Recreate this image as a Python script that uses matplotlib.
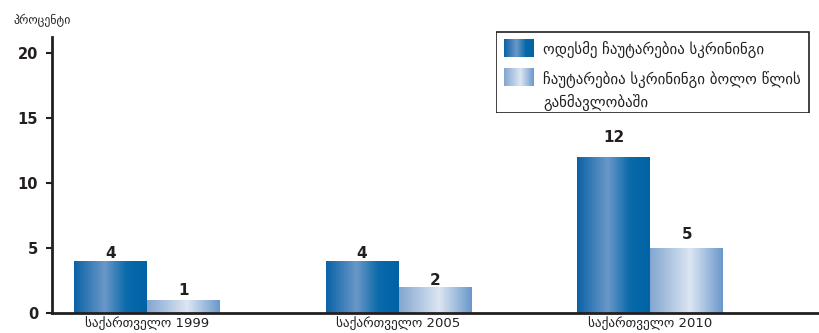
import numpy as np
import matplotlib.pyplot as plt
from matplotlib.colors import LinearSegmentedColormap
from matplotlib.patches import Rectangle

# data
groups = ["საქართველო 1999", "საქართველო 2005", "საქართველო 2010"]
ever_screened = [4, 4, 12]
screened_last_year = [1, 2, 5]
series_names = [
    "ოდესმე ჩაუტარებია სკრინინგი",
    "ჩაუტარებია სკრინინგი ბოლო წლის\nგანმავლობაში",
]
ylabel = "პროცენტი"

# label offsets above the bar tops (points), as placed in the original
off_dark = [5, 5, 14]
off_light = [6.5, 5, 9.5]

plt.rcParams["font.family"] = ["DejaVu Sans"]

dark_cmap = LinearSegmentedColormap.from_list(
    "dark", [(0, "#0a62a6"), (0.42, "#6a98c8"), (0.72, "#0a6aaa"), (1, "#0063a5")]
)
light_cmap = LinearSegmentedColormap.from_list(
    "light", [(0, "#82a6d0"), (0.55, "#dce6f3"), (1, "#6a98ca")]
)
grad = np.linspace(0, 1, 256).reshape(1, -1)


def gradient_bars(ax, bars, cmap):
    for r in bars:
        x0, y0 = r.get_x(), r.get_y()
        w, h = r.get_width(), r.get_height()
        im = ax.imshow(grad, cmap=cmap, aspect="auto",
                       extent=(x0, x0 + w, y0, y0 + h), zorder=2)
        im.set_clip_path(r)


def value_labels(ax, bars, vals, offs):
    for r, v, o in zip(bars, vals, offs):
        ax.annotate(str(v), (r.get_x() + r.get_width() / 2, r.get_height()),
                    xytext=(0, o), textcoords="offset points", ha="center",
                    va="center", fontsize=11, fontweight="bold",
                    color="#231f20")


fig = plt.figure(figsize=(8.2, 3.33), dpi=100)
ax = fig.add_axes([52 / 820, 20 / 333, 1 - 52 / 820, 276 / 333])

x = np.arange(len(groups))
w = 0.29
b1 = ax.bar(x - w / 2, ever_screened, w, facecolor="none", edgecolor="none")
b2 = ax.bar(x + w / 2, screened_last_year, w, facecolor="none", edgecolor="none")
gradient_bars(ax, b1, dark_cmap)
gradient_bars(ax, b2, light_cmap)
value_labels(ax, b1, ever_screened, off_dark)
value_labels(ax, b2, screened_last_year, off_light)

ax.set_xlim(-0.377, 2.675)
ax.set_ylim(0, 21.2)
ax.set_yticks([0, 5, 10, 15, 20])
ax.set_xticks(x)
ax.set_xticklabels(groups, fontsize=9.5, color="#231f20")
ax.tick_params(axis="x", length=0, pad=3)
ax.tick_params(axis="y", length=4, width=1.5, color="#231f20", pad=6,
               labelsize=10.5, labelcolor="#231f20")
for t in ax.get_yticklabels():
    t.set_fontweight("bold")
for s in ("top", "right"):
    ax.spines[s].set_visible(False)
for s in ("left", "bottom"):
    ax.spines[s].set_linewidth(2)
    ax.spines[s].set_color("#231f20")

fig.text(13 / 820, 1 - 21 / 333, ylabel, fontsize=8.5, va="center", ha="left",
         color="#231f20")

# legend drawn by hand so the swatches keep the gradient
lg = fig.add_axes([496 / 820, 1 - 113 / 333, 314 / 820, 82 / 333])
lg.axis("off")
lg.add_patch(Rectangle((0.5, 0.5), 313, 81, facecolor="white",
                       edgecolor="#231f20", linewidth=1.2, zorder=1))
lg.imshow(grad, cmap=dark_cmap, aspect="auto", extent=(8, 38, 26, 8), zorder=3)
lg.imshow(grad, cmap=light_cmap, aspect="auto", extent=(8, 38, 55, 37), zorder=3)
lg.text(47, 18, series_names[0], fontsize=10.7, va="center", color="#231f20",
        zorder=4)
lg.text(47, 60, series_names[1], fontsize=10.7, va="center", color="#231f20",
        linespacing=1.4, zorder=4)
lg.set_xlim(0, 314)
lg.set_ylim(82, 0)

fig.savefig("out.png", dpi=100)
